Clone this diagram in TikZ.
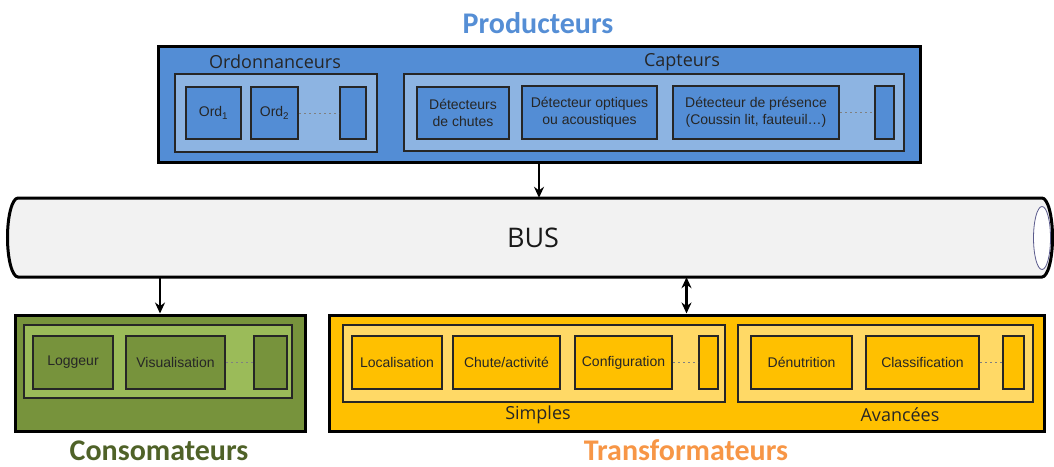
\documentclass[tikz,border=0pt]{standalone}
\usepackage{fontspec}
\setmainfont{Liberation Sans}
\newfontfamily\labelfont{Open Sans}
\newfontfamily\titlefont{Carlito}
\usetikzlibrary{arrows.meta}

\definecolor{prodfill}{HTML}{538DD5}
\definecolor{prodlight}{HTML}{8DB4E2}
\definecolor{consfill}{HTML}{77933C}
\definecolor{conslight}{HTML}{9BBB59}
\definecolor{transfill}{HTML}{FFC000}
\definecolor{translight}{HTML}{FFD966}
\definecolor{prodtitle}{HTML}{558ED5}
\definecolor{constitle}{HTML}{4F6228}
\definecolor{transtitle}{HTML}{F79646}
\definecolor{busfill}{HTML}{F2F2F2}
\definecolor{busend}{HTML}{5A5A8C}

% box given by its corners (x1,y1) and (x2,y2)
\newcommand\placebox[7]{%
  \node[#1, minimum width={#5-#3}, minimum height={#6-#4}] (#2)
    at ({(#3+#5)/2},{(#4+#6)/2}) {#7};}

\begin{document}
\begin{tikzpicture}[x=1pt, y=-1pt,
  outerbox/.style={draw=black, line width=3pt, inner sep=0pt},
  innerbox/.style={draw=black!85, line width=1.8pt, inner sep=0pt},
  itembox/.style={draw=black!85, line width=2pt, inner sep=0pt, align=center,
    text=black!85, font=\fontsize{14}{16.5}\selectfont},
  grouplabel/.style={font=\labelfont\fontsize{18}{20}\selectfont, text=black!85, inner sep=0pt},
  title/.style={font=\titlefont\bfseries\fontsize{30}{33}\selectfont, inner sep=0pt,
    anchor=base, text depth=0pt},
  link/.style={line width=2.4pt, -{Stealth[length=11pt,width=10pt]}},
  duallink/.style={line width=2.4pt, {Stealth[length=11pt,width=10pt]}-{Stealth[length=11pt,width=10pt]}},
  dots/.style={draw=gray, line width=0.9pt, dash pattern=on 2pt off 3pt}]

\useasboundingbox (0,0) rectangle (1054,466);

% ---------- Producteurs ----------
\node[title, text=prodtitle] (tprod) at (538,33) {Producteurs};
\placebox{outerbox, fill=prodfill}{prod}{158}{46}{920}{162}{}
\placebox{innerbox, fill=prodlight}{ordgrp}{175}{74}{377}{152}{}
\node[grouplabel] (lord) at (275,62) {Ordonnanceurs};
\placebox{itembox, fill=prodfill}{ord1}{186}{87}{241}{139}{Ord\textsubscript{1}}
\placebox{itembox, fill=prodfill}{ord2}{251}{87}{298}{139}{Ord\textsubscript{2}}
\placebox{itembox, fill=prodfill}{ordmore}{340}{87}{366}{139}{}
\draw[dots] (ord2.east) -- (ordmore.west);

\placebox{innerbox, fill=prodlight}{captgrp}{404}{74}{904}{151}{}
\node[grouplabel] (lcapt) at (682,62) {Capteurs};
\placebox{itembox, fill=prodfill}{chutes}{417}{87}{509}{139}{Détecteurs\\de chutes}
\placebox{itembox, fill=prodfill}{optiq}{522}{86}{657}{139}{Détecteur optiques\\ou acoustiques}
\placebox{itembox, fill=prodfill}{presence}{673}{86}{839}{139}{Détecteur de présence\\(Coussin lit, fauteuil…)}
\placebox{itembox, fill=prodfill}{captmore}{875}{86}{894}{139}{}
\draw[dots] (presence.east) -- (captmore.west);

% ---------- BUS (cylinder) ----------
\draw[line width=3pt, fill=busfill]
  (18,198) -- (1042,198)
  arc[start angle=-90, end angle=90, x radius=10.5, y radius=39.5]
  -- (18,277)
  arc[start angle=90, end angle=270, x radius=10.5, y radius=39.5] -- cycle;
\draw[busend, line width=0.8pt, fill=white] (1042,238) ellipse[x radius=8.5, y radius=31.5];
\node[inner sep=0pt, minimum width=1044, minimum height=79,
  font=\labelfont\fontsize{27}{30}\selectfont, text=black!90] (bus) at (530,237.5) {\hspace*{6pt}BUS};

% ---------- Consomateurs ----------
\placebox{outerbox, fill=consfill}{cons}{15}{315}{305}{431}{}
\placebox{innerbox, fill=conslight}{consgrp}{24}{325}{292}{398}{}
\placebox{itembox, fill=consfill}{logg}{33}{336}{113}{389}{Loggeur}
\placebox{itembox, fill=consfill}{visu}{126}{336}{225}{389}{Visualisation}
\placebox{itembox, fill=consfill}{consmore}{254}{336}{287}{389}{}
\draw[dots] (visu.east) -- (consmore.west);
\node[title, text=constitle] (tcons) at (159,460) {Consomateurs};

% ---------- Transformateurs ----------
\placebox{outerbox, fill=transfill}{trans}{329}{315}{1044}{431}{}
\placebox{innerbox, fill=translight}{simgrp}{343}{325}{725}{402}{}
\placebox{itembox, fill=transfill}{loc}{352}{336}{442}{389}{Localisation}
\placebox{itembox, fill=transfill}{chute}{453}{336}{560}{389}{Chute/activité}
\placebox{itembox, fill=transfill}{config}{575}{336}{672}{389}{Configuration}
\placebox{itembox, fill=transfill}{simmore}{699}{336}{718}{389}{}
\draw[dots] (config.east) -- (simmore.west);
\node[grouplabel] (lsim) at (538,415) {Simples};

\placebox{innerbox, fill=translight}{avgrp}{738}{325}{1033}{402}{}
\placebox{itembox, fill=transfill}{denut}{751}{336}{852}{389}{Dénutrition}
\placebox{itembox, fill=transfill}{classif}{866}{336}{979}{389}{Classification}
\placebox{itembox, fill=transfill}{avmore}{1003}{336}{1024}{389}{}
\draw[dots] (classif.east) -- (avmore.west);
\node[grouplabel] (lav) at (900,415) {Avancées};
\node[title, text=transtitle] (ttrans) at (686,460) {Transformateurs};

% ---------- connections ----------
\draw[link] (prod.south) -- (prod.south |- bus.north);
\draw[link] (cons.north |- bus.south) -- (cons.north);
\draw[duallink] (trans.north |- bus.south) -- (trans.north);

\end{tikzpicture}
\end{document}
